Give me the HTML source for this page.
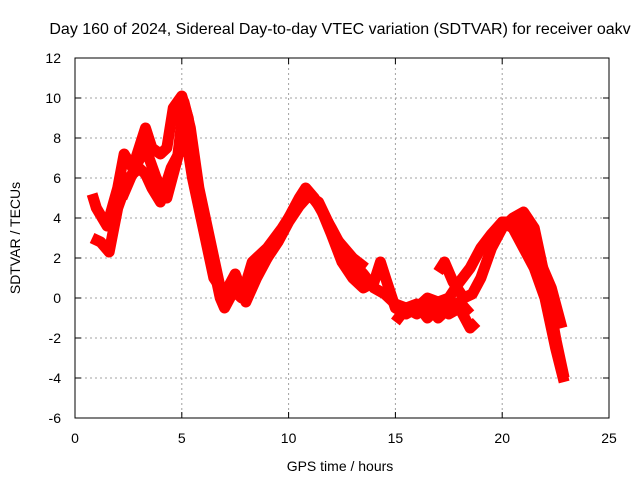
<!DOCTYPE html>
<html><head><meta charset="utf-8"><style>
body{margin:0;background:#fff}
svg{display:block;font-family:"Liberation Sans",sans-serif}
</style></head><body>
<svg width="640" height="480" viewBox="0 0 640 480">
<text x="340" y="34" text-anchor="middle" font-size="16">Day 160 of 2024, Sidereal Day-to-day VTEC variation (SDTVAR) for receiver oakv</text>
<g id="grid"></g>
<g id="marks"></g>
<rect x="75" y="58" width="534" height="360" fill="none" stroke="#000"/>
<g id="ticks"></g>
<text x="340" y="471" text-anchor="middle" font-size="14">GPS time / hours</text>
<text transform="translate(20,238) rotate(-90)" text-anchor="middle" font-size="14">SDTVAR / TECUs</text>
</svg>
<script>
const xTicks=[0,5,10,15,20,25];
const yTicks=[-6,-4,-2,0,2,4,6,8,10,12];
const traceAx=[0.8,1.0,1.5,2.0,2.3,2.7,3.0,3.3,3.6,4.0,4.3,4.6,5.0,5.3,5.6,6.0,6.4,6.8,7.0,7.5,8.0,8.5,9.0,9.5,10,10.5,10.8,11.2,12,12.5,13,13.5,14,14.5,15,15.5,16,16.5,17,17.5,18,18.5,18.8];
const traceAy=[5.2,4.5,3.6,5.5,7.2,6.5,7.5,8.5,7.5,7.2,7.5,9.5,10.1,9.0,6.5,4.0,2.0,0,-0.5,0.5,0.3,1.5,2,3,4,5,5.5,5.0,3.5,2.5,1.8,1.2,0.5,0.2,-0.3,-0.5,-0.3,-1,-0.5,-0.8,-0.5,-1.5,-1.2];
const traceBx=[0.8,1.2,1.6,2.0,2.5,3.0,3.3,3.6,4.0,4.5,5.0,5.2,5.5,6,6.5,7,7.5,8,8.5,9,9.5,10,10.5,11,11.5,12,12.5,13,13.5,14,14.3,14.6,15,15.5,16,16.5,17,17.5,18,18.5,19,19.5,20,20.5,21,21.5,22,22.5,22.9];
const traceBy=[3.0,2.8,2.3,4.5,6.0,6.5,6.2,5.5,4.8,6.5,7.5,8,6,3.5,1,0.2,1.2,-0.2,1,2,2.8,3.8,4.6,5.2,4.5,3.2,1.8,1,0.5,0.8,1.8,0.8,-0.5,-0.8,-0.5,0,-0.2,0,0.8,1.5,2.5,3.2,3.8,3.5,2.5,1.5,0,-2.5,-4.2];
const traceCx=[17,17.3,17.7,18.2,18.6,19,19.5,20,20.5,21,21.5,22,22.5,22.9];
const traceCy=[1.3,1.8,0.8,0,0.2,1.0,2.5,3.5,4.0,4.3,3.5,1,-2,-4];
const traceDx=[19.5,20,20.8,21.5,22.3,22.8];
const traceDy=[3,3.8,3.8,2.5,0.5,-1.5];
const traceEx=[15,15.5,16,16.5,17,17.5,18,18.5];
const traceEy=[-1.2,-0.5,-0.8,-0.3,-1,-0.5,-0.2,-0.8];
const traceFx=[2.2,2.8,3.3,3.8,4.3,4.8,5.1,5.4,5.8,6.3,6.8,7.3,7.8,8.3,9,9.7,10.3,10.8,11.4,12.2,13,13.6];
const traceFy=[5.0,6.5,7.5,6.0,5.0,7.0,9.8,8.5,5.5,3.0,0.5,0.5,0,1.8,2.5,3.5,4.5,5.2,4.8,3.0,2.0,1.5];
const X=v=>75+v*534/25, Y=v=>418-(v+6)*20;
const NS="http://www.w3.org/2000/svg";
const grid=document.getElementById('grid'),ticks=document.getElementById('ticks'),marks=document.getElementById('marks');
function mk(tag,attrs,parent){const e=document.createElementNS(NS,tag);for(const k in attrs)e.setAttribute(k,attrs[k]);parent.appendChild(e);return e;}
xTicks.forEach(t=>{
 if(t>0&&t<25){const g=mk('line',{x1:X(t),x2:X(t),y1:58,y2:418,stroke:'#a0a0a0','stroke-dasharray':'2,3'},grid);
 
 }
 mk('line',{x1:X(t),x2:X(t),y1:418,y2:412,stroke:'#000'},ticks);
 mk('line',{x1:X(t),x2:X(t),y1:58,y2:64,stroke:'#000'},ticks);
 const l=mk('text',{x:X(t),y:443,'text-anchor':'middle','font-size':14},ticks);l.textContent=t;
 
 
});
yTicks.forEach(t=>{
 if(t>-6&&t<12){const g=mk('line',{x1:75,x2:609,y1:Y(t),y2:Y(t),stroke:'#a0a0a0','stroke-dasharray':'2,3'},grid);
 
 }
 mk('line',{x1:75,x2:81,y1:Y(t),y2:Y(t),stroke:'#000'},ticks);
 mk('line',{x1:603,x2:609,y1:Y(t),y2:Y(t),stroke:'#000'},ticks);
 const l=mk('text',{x:61,y:Y(t)+5,'text-anchor':'end','font-size':14},ticks);l.textContent=t;
 
 
});
[[traceAx,traceAy,'trace-a'],[traceBx,traceBy,'trace-b'],[traceCx,traceCy,'trace-c'],[traceDx,traceDy,'trace-d'],[traceEx,traceEy,'trace-e'],[traceFx,traceFy,'trace-f']].forEach(([xs,ys,n])=>{
 const p=mk('polyline',{points:xs.map((x,i)=>X(x)+','+Y(ys[i])).join(' '),fill:'none',stroke:'#ff0000','stroke-width':11,'stroke-linejoin':'round','stroke-linecap':'butt'},marks);
 
 
});
</script>
</body></html>
